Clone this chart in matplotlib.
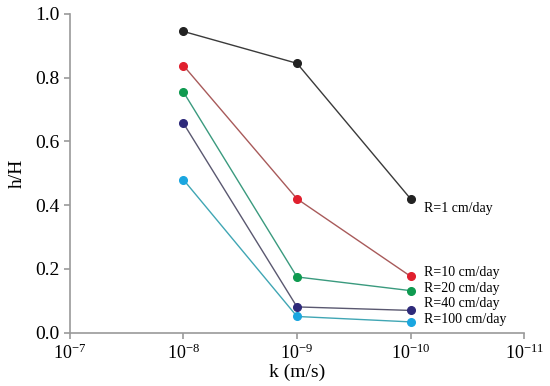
import matplotlib
matplotlib.use("Agg")
import matplotlib.pyplot as plt
import matplotlib.ticker as tk

plt.rcParams['font.family'] = ['Liberation Serif', 'DejaVu Serif']
plt.rcParams['mathtext.fontset'] = 'custom'
plt.rcParams['mathtext.rm'] = 'Liberation Serif'
plt.rcParams['mathtext.it'] = 'Liberation Serif:italic'

# data
k = [1e-8, 1e-9, 1e-10]
labels = ["R=1 cm/day", "R=10 cm/day", "R=20 cm/day", "R=40 cm/day", "R=100 cm/day"]
r1 = [0.945, 0.845, 0.42]
r10 = [0.838, 0.42, 0.177]
r20 = [0.755, 0.175, 0.132]
r40 = [0.657, 0.081, 0.070]
r100 = [0.480, 0.051, 0.034]
series = [r1, r10, r20, r40, r100]
x_ticks = [1e-7, 1e-8, 1e-9, 1e-10, 1e-11]
x_tick_labels = [r'$10^{-7}$', r'$10^{-8}$', r'$10^{-9}$', r'$10^{-10}$', r'$10^{-11}$']

marker_colors = ["#222222", "#e0202e", "#0f9a50", "#2e2a7a", "#1aa6e0"]
line_colors = ["#3a3a3a", "#a85a5a", "#3a9a7e", "#5a5870", "#40a6b4"]
# vertical position of each label (data units), next to the last point
label_y = [0.39, 0.188, 0.139, 0.091, 0.041]

fig = plt.figure(figsize=(5.5, 3.86), dpi=100)
ax = fig.add_axes([0.127, 0.138, 0.826, 0.826])

for ys, mc, lc in zip(series, marker_colors, line_colors):
    ax.plot(k, ys, color=lc, linewidth=1.0, zorder=2)
    ax.plot(k, ys, linestyle='none', marker='o', markersize=5.5,
            color=mc, zorder=3)

for lab, ly in zip(labels, label_y):
    ax.annotate(lab, xy=(k[-1], ly), xytext=(10, 0), textcoords='offset points',
                va='center', ha='left', fontsize=10)

ax.set_xscale('log')
ax.set_xlim(1e-7, 1e-11)
ax.set_ylim(0, 1.0)
ax.set_xticks(x_ticks)
ax.set_xticklabels(x_tick_labels)
ax.xaxis.set_minor_locator(tk.NullLocator())
ax.yaxis.set_major_locator(tk.MultipleLocator(0.2))
ax.yaxis.set_major_formatter(tk.FormatStrFormatter('%.1f'))

for side in ['top', 'right']:
    ax.spines[side].set_visible(False)
for side in ['left', 'bottom']:
    ax.spines[side].set_color('#9a9a9a')
    ax.spines[side].set_linewidth(1.2)
ax.tick_params(colors='#9a9a9a', labelcolor='black', labelsize=14, length=4, width=1.2)
ax.tick_params(axis='x', labelsize=13)

ax.set_xlabel('k (m/s)', fontsize=14, labelpad=1)
ax.set_ylabel('h/H', fontsize=14, labelpad=7)

fig.savefig('out.png', dpi=100)
